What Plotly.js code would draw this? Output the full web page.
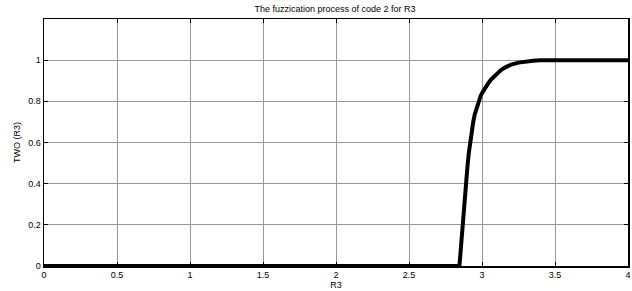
<!DOCTYPE html>
<html><head><meta charset="utf-8">
<script src="https://cdn.plot.ly/plotly-3.0.1.min.js"></script>
<style>html,body{margin:0;padding:0;background:#fff;}#c{width:632px;height:291px;}</style>
</head><body><div id="c"></div>
<script>
var xVals = [0, 2.845, 2.85, 2.855, 2.86, 2.865, 2.87, 2.875, 2.88, 2.89, 2.9, 2.91, 2.92, 2.93, 2.94, 2.95, 2.96, 2.97, 2.98, 2.99, 3.0, 3.02, 3.04, 3.06, 3.08, 3.1, 3.13, 3.16, 3.2, 3.25, 3.3, 3.35, 3.4, 3.5, 4];
var yVals = [0, 0, 0.04, 0.09, 0.13, 0.18, 0.22, 0.27, 0.31, 0.4, 0.48, 0.55, 0.61, 0.66, 0.7, 0.735, 0.76, 0.785, 0.805, 0.825, 0.84, 0.865, 0.885, 0.905, 0.92, 0.935, 0.952, 0.965, 0.978, 0.988, 0.994, 0.997, 0.999, 1, 1];
var xTicks = [0, 0.5, 1, 1.5, 2, 2.5, 3, 3.5, 4];
var xTickText = ['0', '0.5', '1', '1.5', '2', '2.5', '3', '3.5', '4'];
var yTicks = [0, 0.2, 0.4, 0.6, 0.8, 1];
var yTickText = ['0', '0.2', '0.4', '0.6', '0.8', '1'];

var font = {family: 'Liberation Sans, Arial, sans-serif', size: 9, color: '#000'};
Plotly.newPlot('c', [{
  x: xVals, y: yVals, type: 'scatter', mode: 'lines',
  line: {color: '#000', width: 4, shape: 'linear'},
  hoverinfo: 'skip'
}], {
  width: 632, height: 291,
  margin: {l: 44, r: 4, t: 19, b: 25},
  paper_bgcolor: '#fff', plot_bgcolor: '#fff',
  showlegend: false,
  font: font,
  title: {text: 'The fuzzication process of code 2 for R3', font: font, x: 0.53, xanchor: 'center', y: 0.98, yanchor: 'top'},
  xaxis: {
    range: [0, 4], tickvals: xTicks, ticktext: xTickText,
    showgrid: true, gridcolor: '#999', gridwidth: 1,
    zeroline: false, showline: true, linecolor: '#000', linewidth: 1.5, mirror: 'ticks',
    ticks: 'inside', ticklen: 4, tickcolor: '#000', tickfont: font,
    title: {text: 'R3', font: font, standoff: 0}
  },
  yaxis: {
    range: [0, 1.2], tickvals: yTicks, ticktext: yTickText,
    showgrid: true, gridcolor: '#999', gridwidth: 1,
    zeroline: false, showline: true, linecolor: '#000', linewidth: 1.5, mirror: 'ticks',
    ticks: 'inside', ticklen: 4, tickcolor: '#000', tickfont: font,
    title: {text: 'TWO (R3)', font: font, standoff: 6}
  }
}, {staticPlot: true, displayModeBar: false});
</script></body></html>
